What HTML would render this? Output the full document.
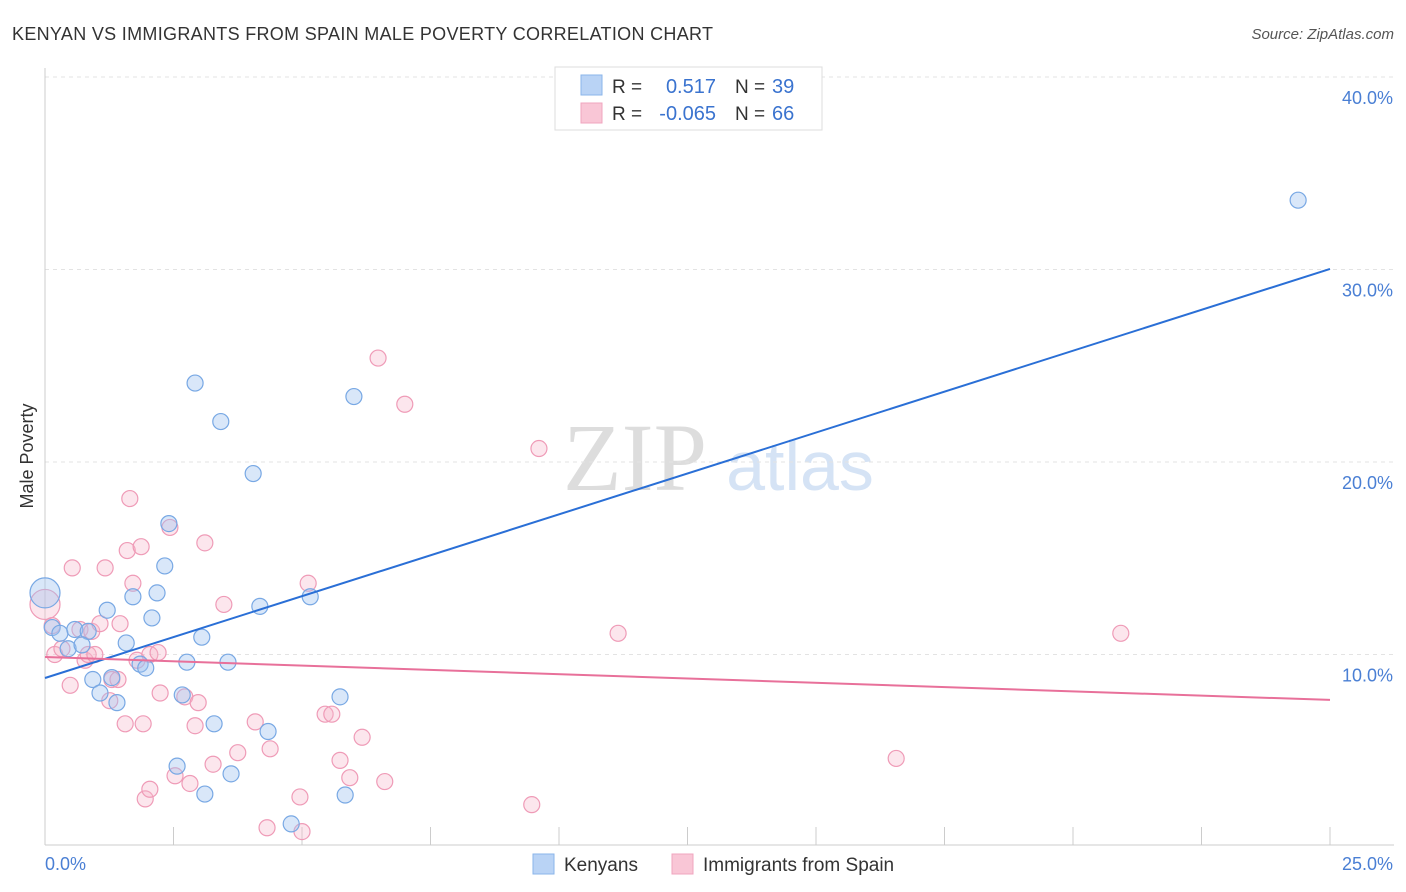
<!DOCTYPE html>
<html><head><meta charset="utf-8"><style>
body{margin:0;background:#fff;font-family:"Liberation Sans",sans-serif}
svg{display:block}
</style></head><body>
<svg id="c" width="1406" height="892" xmlns="http://www.w3.org/2000/svg">
<text x="12" y="40" font-size="18" fill="#333" textLength="701">KENYAN VS IMMIGRANTS FROM SPAIN MALE POVERTY CORRELATION CHART</text>
<text x="1394" y="39" font-size="15" fill="#555" font-style="italic" text-anchor="end">Source: ZipAtlas.com</text>
<text x="33" y="456" font-size="18" fill="#333" transform="rotate(-90 33 456)" text-anchor="middle">Male Poverty</text>
<g><text x="635" y="490" font-size="96" fill="#ddd" font-family="Liberation Serif" text-anchor="middle">ZIP</text><text x="800" y="490" font-size="70" fill="#d5e3f5" text-anchor="middle">atlas</text></g>
<g id="grid"></g><g id="marks"></g>
<g>
<rect x="555" y="67" width="267" height="63" fill="#fff" stroke="#ddd"/>
<rect x="581" y="75" width="21" height="20" fill="#b9d3f5" stroke="#8ab4ea"/>
<rect x="581" y="103" width="21" height="20" fill="#f9c6d6" stroke="#f0a5bf"/>
<text x="612" y="93" font-size="19" fill="#333">R =</text><text x="716" y="93" font-size="20" fill="#3a73cf" text-anchor="end">0.517</text>
<text x="735" y="93" font-size="19" fill="#333">N =</text><text x="772" y="93" font-size="20" fill="#3a73cf">39</text>
<text x="612" y="120" font-size="19" fill="#333">R =</text><text x="716" y="120" font-size="20" fill="#3a73cf" text-anchor="end">-0.065</text>
<text x="735" y="120" font-size="19" fill="#333">N =</text><text x="772" y="120" font-size="20" fill="#3a73cf">66</text>
</g>
<g>
<rect x="533" y="854" width="21" height="20" fill="#b9d3f5" stroke="#8ab4ea"/><text x="564" y="871" font-size="19" fill="#333">Kenyans</text>
<rect x="672" y="854" width="21" height="20" fill="#f9c6d6" stroke="#f0a5bf"/><text x="703" y="871" font-size="19" fill="#333">Immigrants from Spain</text>
</g>
</svg>
<script>
const yTicks=[10,20,30,40];
const yTickLabels=["10.0%","20.0%","30.0%","40.0%"];
const xTickLabels=["0.0%","25.0%"];
const blueX=[0,.14,.29,.45,.58,.84,.72,.93,1.07,1.21,1.40,1.30,1.58,1.71,1.85,1.96,2.08,2.18,2.33,2.41,2.57,2.67,2.76,2.92,3.05,3.11,3.29,3.42,3.56,3.62,4.05,4.18,4.34,4.79,5.16,5.74,5.84,6.01,24.38];
const blueY=[13.2,11.4,11.1,10.3,11.3,11.2,10.5,8.7,8.0,12.3,7.5,8.8,10.6,13.0,9.5,9.3,11.9,13.2,14.6,16.8,4.2,7.9,9.6,24.1,10.9,2.75,6.4,22.1,9.6,3.8,19.4,12.5,6.0,1.2,13.0,7.8,2.7,23.4,33.6];
const pinkX=[0,.14,.19,.33,.49,.53,.68,.78,.84,.97,.91,1.07,1.17,1.26,1.30,1.42,1.46,1.56,1.60,1.65,1.71,1.79,1.87,1.91,1.95,2.04,2.04,2.20,2.24,2.43,2.53,2.72,2.82,2.92,2.98,3.11,3.27,3.48,3.75,4.09,4.32,4.38,4.96,5.00,5.12,5.45,5.58,5.74,5.93,6.17,6.48,6.61,7.00,9.47,9.61,11.15,16.56,20.93];
const pinkY=[12.6,11.5,10.0,10.3,8.4,14.5,11.3,9.7,10.0,10.0,11.2,11.6,14.5,7.6,8.7,8.7,11.6,6.4,15.4,18.1,13.7,9.7,15.6,6.4,2.5,3.0,10.0,10.1,8.0,16.6,3.7,7.8,3.3,6.3,7.5,15.8,4.3,12.6,4.9,6.5,1.0,5.1,2.6,0.8,13.7,6.9,6.9,4.5,3.6,5.7,25.4,3.4,23.0,2.2,20.7,11.1,4.6,11.1];
const blueLine=[8.78,30.03];
const pinkLine=[9.87,7.64];
const X=v=>45+v/25*1285, Y=v=>847-v*19.25;
const NS="http://www.w3.org/2000/svg";
const grid=document.getElementById('grid'), marks=document.getElementById('marks');
function mk(p,tag,a){const e=document.createElementNS(NS,tag);for(const k in a)e.setAttribute(k,a[k]);p.appendChild(e);return e;}
yTicks.forEach((t,i)=>{
 const l=mk(grid,'line',{x1:45,x2:1394,y1:Y(t),y2:Y(t),stroke:'#e3e3e3','stroke-dasharray':'4,4'});
 
 
 const tx=mk(grid,'text',{x:1393,y:Y(t)+27,'font-size':18,fill:'#4a7fd4','text-anchor':'end'});tx.textContent=yTickLabels[i];
 
 
});
const ax=mk(grid,'line',{x1:45,x2:1394,y1:845,y2:845,stroke:'#ccc'});


const ay=mk(grid,'line',{x1:45,x2:45,y1:68,y2:845,stroke:'#ccc'});


for(let i=0;i<=10;i++){const t=mk(grid,'line',{x1:X(i*2.5),x2:X(i*2.5),y1:827,y2:845,stroke:'#ccc'});
 
 }
const xl0=mk(grid,'text',{x:45,y:870,'font-size':18,fill:'#4a7fd4'});xl0.textContent=xTickLabels[0];


const xl1=mk(grid,'text',{x:1393,y:870,'font-size':18,fill:'#4a7fd4','text-anchor':'end'});xl1.textContent=xTickLabels[1];


function pts(xs,ys,fill,stroke,name){xs.forEach((x,i)=>{const c=mk(marks,'circle',{cx:X(x),cy:Y(ys[i]),r:i==0?15:8,fill:fill,stroke:stroke,'stroke-width':1.2});
 
 });}
pts(pinkX,pinkY,'rgba(246,182,204,0.35)','#ef9bb7','spain-point');
pts(blueX,blueY,'rgba(160,196,240,0.4)','#78a8e4','kenyan-point');
const bl=mk(marks,'line',{x1:X(0),x2:X(25),y1:Y(blueLine[0]),y2:Y(blueLine[1]),stroke:'#2a6fd6','stroke-width':2});


const pl=mk(marks,'line',{x1:X(0),x2:X(25),y1:Y(pinkLine[0]),y2:Y(pinkLine[1]),stroke:'#e8709a','stroke-width':2});


</script>
</body></html>
